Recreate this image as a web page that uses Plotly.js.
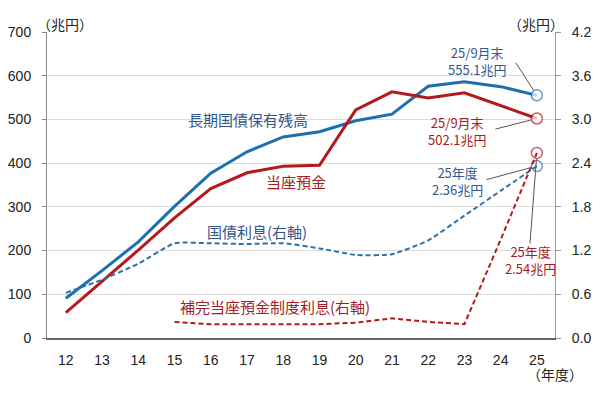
<!DOCTYPE html>
<html>
<head>
<meta charset="utf-8">
<script src="https://cdn.plot.ly/plotly-3.0.1.min.js"></script>
<style>html,body{margin:0;padding:0;background:#fff;}#chart{width:600px;height:393px;}</style>
</head>
<body>
<div id="chart"></div>
<script>
// 年度
const years = [12, 13, 14, 15, 16, 17, 18, 19, 20, 21, 22, 23, 24, 25];
// 長期国債保有残高（兆円, 左軸）25 = 25/9月末
const jgbHoldings = [91, 154, 220, 301, 377, 426, 460, 472, 497, 512, 576, 586, 575, 555.1];
// 当座預金（兆円, 左軸）
const currentDeposits = [58, 129, 201, 275, 342, 378, 393, 395, 522, 563, 549, 561, 532, 502.1];
// 国債利息（兆円, 右軸）
const jgbInterest = [0.62, 0.80, 1.02, 1.30, 1.30, 1.29, 1.30, 1.23, 1.14, 1.15, 1.34, 1.68, 2.02, 2.36];
// 補完当座預金制度利息（兆円, 右軸）
const ccfYears = [15, 16, 17, 18, 19, 20, 21, 22, 23, 24, 25];
const ccfInterest = [0.22, 0.19, 0.19, 0.19, 0.19, 0.21, 0.27, 0.22, 0.19, 1.35, 2.54];
// 軸目盛
const leftTicks = [0, 100, 200, 300, 400, 500, 600, 700];
const rightTicks = [0, 0.6, 1.2, 1.8, 2.4, 3.0, 3.6, 4.2];

const BLUE = '#1d70b0', RED = '#b3191f';
const BLUE_T = '#34588c', RED_T = '#a51d24';
const JP = '"Noto Sans CJK JP", "Noto Sans", sans-serif';
const NUM = '"Liberation Sans", Arial, sans-serif';

function lastOnly(arr, s) { return arr.map((v, i) => i === arr.length - 1 ? s : 0); }

const traces = [
  { x: years, y: jgbInterest, yaxis: 'y2', type: 'scatter', mode: 'lines+markers',
    line: { color: '#2a74ab', width: 2, dash: '5px,3px', shape: 'spline', smoothing: 0.5 },
    marker: { size: lastOnly(years, 11), color: 'rgba(255,255,255,0)', line: { color: '#2a74ab', width: 1.5 } } },
  { x: ccfYears, y: ccfInterest, yaxis: 'y2', type: 'scatter', mode: 'lines+markers',
    line: { color: RED, width: 2, dash: '5px,3px' },
    marker: { size: lastOnly(ccfYears, 11), color: 'rgba(255,255,255,0)', line: { color: RED, width: 1.5 } } },
  { x: years, y: jgbHoldings, type: 'scatter', mode: 'lines+markers',
    line: { color: BLUE, width: 3 },
    marker: { size: lastOnly(years, 11), color: '#fff', line: { color: BLUE, width: 1.5 } } },
  { x: years, y: currentDeposits, type: 'scatter', mode: 'lines+markers',
    line: { color: RED, width: 3 },
    marker: { size: lastOnly(years, 11), color: '#fff', line: { color: RED, width: 1.5 } } }
];

const n = years.length - 1;
function label(text, x, y, color, size) {
  return { text, x, y, xref: 'x', yref: 'y', showarrow: false,
    font: { family: JP, size: size || 15, color }, align: 'center' };
}
function leader(x, y, yref, ax, ay) {
  return { text: '', x, y, xref: 'x', yref, showarrow: true, arrowhead: 0, arrowwidth: 1,
    arrowcolor: '#555', ax, ay, standoff: 6 };
}

const annotations = [
  label('長期国債保有残高', 17.03, 499, BLUE_T),
  label('当座預金', 18.35, 357, RED_T),
  label('国債利息(右軸)', 17.28, 243, BLUE_T),
  label('補完当座預金制度利息(右軸)', 17.77, 71, RED_T),
  label('25/9月末<br>555.1兆円', 23.35, 634, BLUE_T, 13),
  label('25/9月末<br>502.1兆円', 22.80, 474, RED_T, 13),
  label('25年度<br>2.36兆円', 22.80, 359, BLUE_T, 13),
  label('25年度<br>2.54兆円', 24.82, 178, RED_T, 13),
  leader(years[n], jgbHoldings[n], 'y', -22, -34),
  leader(years[n], currentDeposits[n], 'y', -43, 11),
  leader(years[n], jgbInterest[n], 'y2', -52, 14),
  leader(ccfYears[ccfYears.length - 1], ccfInterest[ccfInterest.length - 1], 'y2', -7, 92),
  { text: '（兆円）', xref: 'paper', yref: 'paper', x: 0.036, xanchor: 'center', y: 1.0, yanchor: 'bottom', yshift: -4,
    showarrow: false, font: { family: JP, size: 14, color: '#222' } },
  { text: '（兆円）', xref: 'paper', yref: 'paper', x: 0.9625, xanchor: 'center', y: 1.0, yanchor: 'bottom', yshift: -4,
    showarrow: false, font: { family: JP, size: 14, color: '#222' } },
  { text: '（年度）', xref: 'paper', yref: 'paper', x: 1.0, y: 0, yanchor: 'top', xanchor: 'center', xshift: 0, yshift: -24,
    showarrow: false, font: { family: JP, size: 14, color: '#222' } }
];

const layout = {
  width: 600, height: 393,
  margin: { l: 47, r: 45, t: 32, b: 55 },
  paper_bgcolor: '#fff', plot_bgcolor: '#fff',
  showlegend: false,
  xaxis: { range: [11.48, 25.5], tickvals: years, ticktext: years.map(String),
    showgrid: false, zeroline: false, showline: true, linecolor: '#666', linewidth: 2,
    ticks: '', ticklabelstandoff: 8, tickfont: { family: NUM, size: 14, color: '#222' } },
  yaxis: { range: [0, 700], tickvals: leftTicks, ticktext: leftTicks.map(String),
    showgrid: true, gridcolor: '#dcdcdc', gridwidth: 1, zeroline: false,
    showline: true, linecolor: '#888', linewidth: 1, ticks: 'outside', ticklen: 4, tickcolor: '#888',
    ticklabelstandoff: 8, tickfont: { family: NUM, size: 14, color: '#222' } },
  yaxis2: { range: [0, 4.2], overlaying: 'y', side: 'right', tickvals: rightTicks,
    ticktext: rightTicks.map(v => v.toFixed(1)), showgrid: false, zeroline: false,
    showline: true, linecolor: '#999', linewidth: 1, ticks: 'outside', ticklen: 5, tickcolor: '#999',
    ticklabelstandoff: 8, tickfont: { family: NUM, size: 14, color: '#222' } },
  annotations
};

Plotly.newPlot('chart', traces, layout, { staticPlot: true, displayModeBar: false });
</script>
</body>
</html>
